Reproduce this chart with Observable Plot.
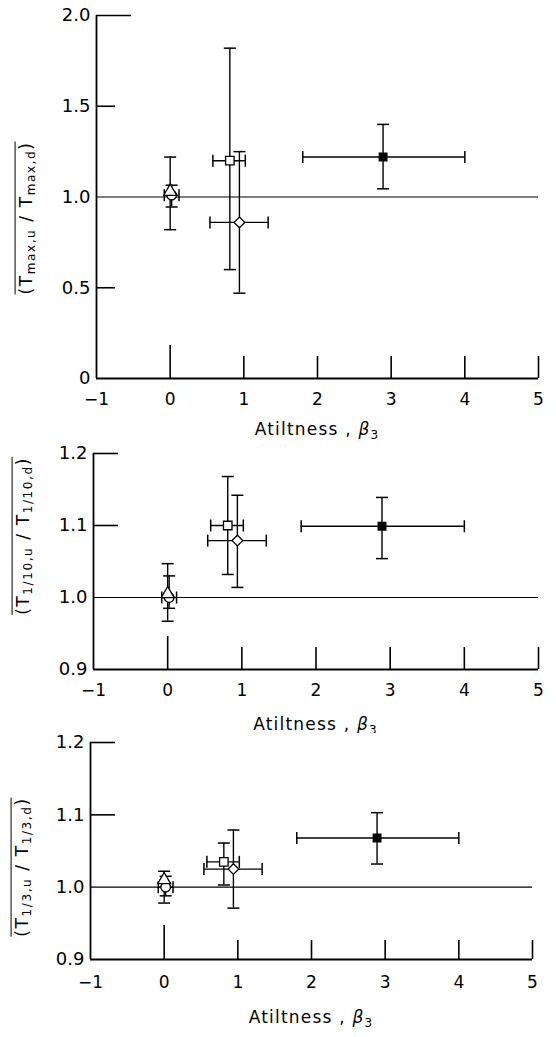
<!DOCTYPE html>
<html>
<head>
<meta charset="utf-8">
<script src="https://cdn.jsdelivr.net/npm/d3@7"></script>
<script src="https://cdn.jsdelivr.net/npm/@observablehq/plot@0.6"></script>
<style>
  body { margin: 0; background: #fff; }
  #chart svg { display: block; }
  .panel { position: relative; width: 556px; }
  .ylabel {
    position: absolute;
    transform: translate(-50%, -50%) rotate(-90deg);
    white-space: nowrap;
    font-family: "DejaVu Sans", sans-serif;
    font-size: 17px;
    letter-spacing: 1.6px;
    line-height: 1.05;
    border-top: 1.5px solid black;
    padding-top: 2px;
    color: black;
  }
  .ylabel sub { font-size: 12px; vertical-align: -3px; line-height: 0; }
</style>
</head>
<body>
<div id="chart"></div>
<script>
// Marker used for each observation set (open triangle, open circle, open square, open diamond, filled square)
const symbols = ["triangle", "circle", "square", "diamond2", "square"];
const fills = ["white", "white", "white", "white", "black"];

// Atiltness β3 of each set, with its range (null where no horizontal bar is drawn)
const beta = [0.00, 0.02, 0.81, 0.94, 2.89];
const betaLo = [null, -0.08, 0.58, 0.54, 1.80];
const betaHi = [null, 0.12, 1.02, 1.33, 4.00];

// Mean ratio T_max,u / T_max,d with its range
const ratioMax = [1.03, 1.01, 1.20, 0.86, 1.22];
const ratioMaxLo = [0.82, 0.945, 0.60, 0.47, 1.045];
const ratioMaxHi = [1.22, 1.065, 1.82, 1.25, 1.40];

// Mean ratio T_1/10,u / T_1/10,d with its range
const ratioTenth = [1.005, 1.00, 1.10, 1.079, 1.099];
const ratioTenthLo = [0.967, 0.985, 1.032, 1.014, 1.054];
const ratioTenthHi = [1.047, 1.030, 1.168, 1.142, 1.139];

// Mean ratio T_1/3,u / T_1/3,d with its range
const ratioThird = [1.01, 1.00, 1.035, 1.025, 1.068];
const ratioThirdLo = [0.978, 0.988, 1.003, 0.971, 1.032];
const ratioThirdHi = [1.022, 1.015, 1.061, 1.079, 1.103];

// Axis ticks
const xTicks = [-1, 0, 1, 2, 3, 4, 5];
const xTickLabels = ["\u22121", "0", "1", "2", "3", "4", "5"];
const yTicksMax = [0, 0.5, 1.0, 1.5, 2.0];
const yTickLabelsMax = ["0", "0.5", "1.0", "1.5", "2.0"];
const yTicksSmall = [0.9, 1.0, 1.1, 1.2];
const yTickLabelsSmall = ["0.9", "1.0", "1.1", "1.2"];

const FONT = "DejaVu Sans";

// Small cap segments for the error bars
const capH = { draw(ctx) { ctx.moveTo(-6, 0); ctx.lineTo(6, 0); } };
const capV = { draw(ctx) { ctx.moveTo(0, -6); ctx.lineTo(0, 6); } };

const panels = [
  {
    y: ratioMax, yLo: ratioMaxLo, yHi: ratioMaxHi,
    yDomain: [0, 2], yTicks: yTicksMax, yTickLabels: yTickLabelsMax,
    sub: "max",
    height: 443, marginTop: 15, marginBottom: 65, marginLeft: 96, marginRight: 18,
    yTickLen: 19, topTickLen: 35, xTickLen: 22, zeroTickLen: 33, xPad: 14,
    titleY: 430, labelX: 25, labelY: 218
  },
  {
    y: ratioTenth, yLo: ratioTenthLo, yHi: ratioTenthHi,
    yDomain: [0.9, 1.2], yTicks: yTicksSmall, yTickLabels: yTickLabelsSmall,
    sub: "1/10",
    height: 290, marginTop: 10, marginBottom: 64, marginLeft: 93, marginRight: 18,
    yTickLen: 25, topTickLen: 25, xTickLen: 22, zeroTickLen: 33, xPad: 14,
    titleY: 282, labelX: 22, labelY: 93
  },
  {
    y: ratioThird, yLo: ratioThirdLo, yHi: ratioThirdHi,
    yDomain: [0.9, 1.2], yTicks: yTicksSmall, yTickLabels: yTickLabelsSmall,
    sub: "1/3",
    height: 304, marginTop: 9, marginBottom: 78, marginLeft: 90, marginRight: 24,
    yTickLen: 25, topTickLen: 25, xTickLen: 19, zeroTickLen: 34, xPad: 16,
    titleY: 285, labelX: 21, labelY: 134
  }
];

function drawPanel(p) {
  const rows = symbols.map((s, i) => ({
    symbol: s, fill: fills[i],
    x: beta[i], xLo: betaLo[i], xHi: betaHi[i],
    y: p.y[i], yLo: p.yLo[i], yHi: p.yHi[i]
  }));
  const withX = rows.filter(d => d.xLo != null);
  const [y0, y1] = p.yDomain;
  const innerY = p.yTicks.filter(t => t !== y0 && t !== 1 && t !== y1);

  const chart = Plot.plot({
    width: 556,
    height: p.height,
    marginTop: p.marginTop,
    marginBottom: p.marginBottom,
    marginLeft: p.marginLeft,
    marginRight: p.marginRight,
    style: { fontFamily: FONT, fontSize: "17px", color: "black", background: "white", overflow: "visible" },
    x: { domain: [xTicks[0], xTicks[xTicks.length - 1]], label: null },
    y: { domain: p.yDomain, label: null },
    marks: [
      // frame lines
      Plot.ruleX([xTicks[0]], { stroke: "black", strokeWidth: 1.8 }),
      Plot.ruleY([y0], { stroke: "black", strokeWidth: 1.8 }),
      // reference ratio of one
      Plot.ruleY([1], { stroke: "black", strokeWidth: 1.2 }),
      // tick labels
      Plot.axisX(xTicks, { tickSize: 0, tickPadding: p.xPad, tickFormat: d => xTickLabels[xTicks.indexOf(d)], fontSize: 17, letterSpacing: 1 }),
      Plot.axisY(p.yTicks, { anchor: "left", tickSize: 0, tickPadding: 6, tickFormat: d => p.yTickLabels[p.yTicks.indexOf(d)], fontSize: 18, letterSpacing: 1.5 }),
      // inward ticks
      Plot.axisX([0], { tickSize: -p.zeroTickLen, text: null, strokeWidth: 1.6 }),
      Plot.axisX(xTicks.filter(t => t > 0), { tickSize: -p.xTickLen, text: null, strokeWidth: 1.6 }),
      Plot.axisY(innerY, { anchor: "left", tickSize: -p.yTickLen, text: null, strokeWidth: 1.6 }),
      Plot.axisY([y1], { anchor: "left", tickSize: -p.topTickLen, text: null, strokeWidth: 1.6 }),
      // error bars
      Plot.ruleX(rows, { x: "x", y1: "yLo", y2: "yHi", stroke: "black", strokeWidth: 1.4 }),
      Plot.ruleY(withX, { y: "y", x1: "xLo", x2: "xHi", stroke: "black", strokeWidth: 1.4 }),
      Plot.dot(rows, { x: "x", y: "yLo", symbol: capH, fill: "none", stroke: "black", strokeWidth: 1.5 }),
      Plot.dot(rows, { x: "x", y: "yHi", symbol: capH, fill: "none", stroke: "black", strokeWidth: 1.5 }),
      Plot.dot(withX, { x: "xLo", y: "y", symbol: capV, fill: "none", stroke: "black", strokeWidth: 1.5 }),
      Plot.dot(withX, { x: "xHi", y: "y", symbol: capV, fill: "none", stroke: "black", strokeWidth: 1.5 }),
      // markers (circle under triangle)
      ...[1, 0, 2, 3, 4].map(i => Plot.dot([rows[i]], {
        x: "x", y: "y", symbol: rows[i].symbol, fill: rows[i].fill,
        stroke: "black", strokeWidth: 1.3, r: rows[i].fill === "black" ? 4.3 : 4.8
      }))
    ]
  });

  const svg = d3.select(chart);
  const xr = chart.scale("x").range;
  const cx = (xr[0] + xr[1]) / 2;

  // x-axis title
  const title = svg.append("text")
    .attr("x", cx).attr("y", p.titleY)
    .attr("text-anchor", "middle").attr("dominant-baseline", "middle")
    .attr("font-family", FONT).attr("font-size", 17).attr("letter-spacing", 1.2)
    .attr("fill", "black");
  title.append("tspan").text("Atiltness , ");
  title.append("tspan").attr("font-style", "italic").text("\u03B2");
  title.append("tspan").attr("font-size", 12).attr("dy", 5).text("3");

  // panel wrapper with the y-axis title (mean ratio, with an overbar)
  const wrap = document.createElement("div");
  wrap.className = "panel";
  wrap.appendChild(chart);
  const lab = document.createElement("div");
  lab.className = "ylabel";
  lab.style.left = p.labelX + "px";
  lab.style.top = p.labelY + "px";
  lab.innerHTML = `(T<sub>${p.sub},u</sub> / T<sub>${p.sub},d</sub>)`;
  wrap.appendChild(lab);
  return wrap;
}

const root = document.getElementById("chart");
for (const p of panels) root.appendChild(drawPanel(p));
</script>
</body>
</html>
